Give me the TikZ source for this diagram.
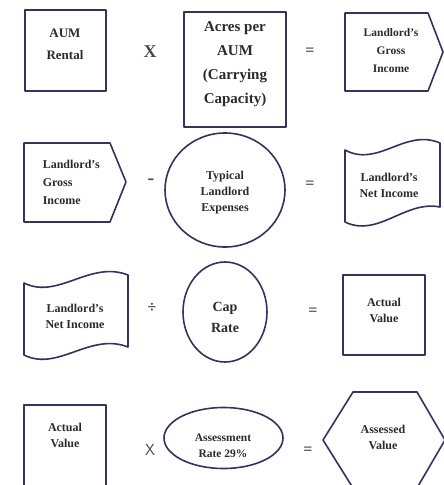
\documentclass[tikz,border=0pt]{standalone}
\usepackage{fontspec}
\setmainfont{Liberation Serif}
\definecolor{ink}{HTML}{34335F}
\definecolor{txtgray}{HTML}{2B2B2B}
\definecolor{opgray}{HTML}{4A4A4A}
\begin{document}
\begin{tikzpicture}[x=1pt,y=-1pt,line width=1.6pt,
    shp/.style={draw=ink,line join=round},
    txt/.style={align=center,text=txtgray,inner sep=0pt,font=\bfseries\fontsize{12}{16}\selectfont},
    op/.style={text=opgray,inner sep=0pt,font=\bfseries\fontsize{16}{18}\selectfont}]
        \useasboundingbox (0,0) rectangle (444,485);
        \clip (0,0) rectangle (444,485);
        \fill[white] (0,0) rectangle (444,485);
        \draw[shp] (25,10) rectangle (106,91);
        \node[txt,font=\bfseries\fontsize{13}{22}\selectfont] (rental) at (65,44) {AUM\\Rental};
        \node[op,font=\bfseries\fontsize{18}{18}\selectfont] (times1) at (150,52) {X};
        \draw[shp] (184,12) rectangle (286,127);
        \node[txt,font=\bfseries\fontsize{15}{24}\selectfont] (acres) at (235,64) {Acres per\\AUM\\(Carrying\\Capacity)};
        \node[op] (eq1) at (310,52) {=};
        \draw[shp] (345,13) -- (428,13) -- (443,52) -- (428,91) -- (345,91) -- cycle;
        \node[txt,font=\bfseries\fontsize{11.5}{18}\selectfont] (gross1) at (391,51) {Landlord's\\Gross\\Income};
        \draw[shp] (24,143) -- (110,143) -- (126,182) -- (110,222) -- (24,222) -- cycle;
        \node[txt,align=left,anchor=west,font=\bfseries\fontsize{12}{18}\selectfont] (gross2) at (42,182) {Landlord's\\Gross\\Income};
        \node[op,font=\bfseries\fontsize{20}{18}\selectfont] (minus) at (151,182) {-};
        \draw[shp] (225,190) ellipse [x radius=60, y radius=57];
        \node[txt] (expenses) at (225,193) {Typical\\Landlord\\Expenses};
        \node[op] (eq2) at (310,185) {=};
        \draw[shp] (345,150) .. controls (378,168) and (405,128) .. (440,143) -- (440,207) .. controls (405,200) and (378,238) .. (345,222) -- cycle;
        \node[txt] (net1) at (389,185) {Landlord's\\Net Income};
        \draw[shp] (24,283) .. controls (58,300) and (90,260) .. (128,275) -- (128,347) .. controls (90,332) and (58,372) .. (24,355) -- cycle;
        \node[txt] (net2) at (75,316) {Landlord's\\Net Income};
        \node[op] (divide) at (152,308) {÷};
        \draw[shp] (225,312) ellipse [x radius=42, y radius=50];
        \node[txt,font=\bfseries\fontsize{14}{21}\selectfont] (cap) at (225,317) {Cap\\Rate};
        \node[op] (eq3) at (313,312) {=};
        \draw[shp] (343,275) rectangle (425,355);
        \node[txt] (actual1) at (384,310) {Actual\\Value};
        \draw[shp] (24,405) rectangle (106,510);
        \node[txt] (actual2) at (65,435) {Actual\\Value};
        \node[op,font=\sffamily\fontsize{16}{18}\selectfont] (times2) at (150,450) {X};
        \draw[shp] (223.5,438) ellipse [x radius=59.5, y radius=30.5];
        \node[txt,font=\bfseries\fontsize{11.5}{16}\selectfont] (rate) at (223,446) {Assessment\\Rate 29\%};
        \node[op] (eq4) at (308,451) {=};
        \draw[shp] (353,392) -- (417,392) -- (445,440) -- (417,488) -- (353,488) -- (323,440) -- cycle;
        \node[txt] (assessed) at (383,437) {Assessed\\Value};
\end{tikzpicture}
\end{document}
